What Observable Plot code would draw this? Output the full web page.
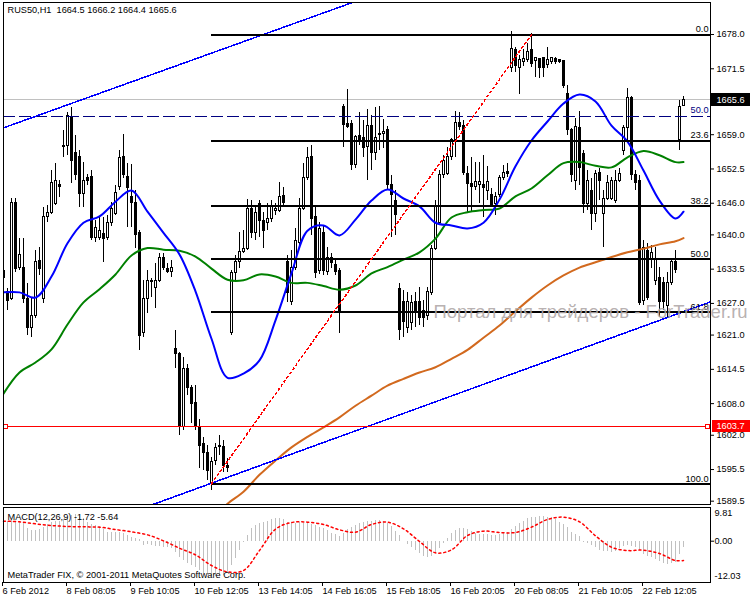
<!DOCTYPE html>
<html><head><meta charset="utf-8">
<script src="https://cdn.jsdelivr.net/npm/d3@7"></script>
<script src="https://cdn.jsdelivr.net/npm/@observablehq/plot@0.6"></script>
<style>body{margin:0;background:#fff;} svg{display:block;}</style>
</head><body><div id="chart"></div>
<script>
const symbol = "RUS50,H1";
const open = [
1633.2,1629.1,1627.9,1646.1,1633.8,1633.8,1627.9,1622.4,1624.7,1635.1,
1627.9,1643.3,1644.2,1645.9,1649.4,1656.8,1656.9,1662.4,1655.6,1654.7,
1647.8,1650.7,1650.9,1639.5,1639.5,1640.1,1639.5,1642.2,1644.0,1649.0,
1654.7,1650.9,1647.1,1646.1,1640.4,1621.3,1627.9,1631.0,1630.0,1631.3,
1635.7,1633.6,1632.9,1618.4,1617.5,1603.6,1614.6,1611.0,1608.2,1603.6,
1600.4,1598.7,1593.0,1597.2,1600.0,1599.7,1596.2,1621.3,1632.7,1634.8,
1636.7,1637.4,1645.0,1640.3,1645.9,1642.7,1642.3,1643.1,1644.6,1644.6,
1647.3,1634.8,1627.2,1633.8,1638.5,1645.0,1650.7,1654.7,1643.3,1633.2,
1640.4,1632.9,1635.7,1634.2,1633.2,1664.3,1661.1,1661.1,1653.2,1658.8,
1658.3,1656.6,1660.7,1655.6,1659.0,1659.2,1659.8,1649.4,1646.5,1629.8,
1627.2,1622.4,1623.2,1627.2,1627.2,1625.6,1624.7,1628.9,1637.4,1642.3,
1651.3,1651.6,1654.7,1657.9,1661.3,1660.7,1651.6,1649.7,1649.0,1649.4,
1649.4,1648.4,1647.5,1645.9,1647.5,1650.7,1652.0,1671.6,1675.0,1671.7,
1672.7,1673.1,1675.0,1672.9,1673.3,1673.5,1672.3,1672.7,1673.3,1673.1,
1672.9,1666.8,1659.8,1650.3,1660.2,1655.4,1645.9,1648.4,1644.0,1651.8,
1644.0,1646.9,1646.9,1646.5,1650.3,1656.0,1660.2,1665.9,1651.3,1650.3,
1627.5,1637.0,1635.5,1631.3,1631.9,1630.8,1626.6,1630.8,1634.9,1657.9,
1664.5];
const high = [
1634.2,1629.8,1646.9,1646.9,1639.3,1639.3,1630.8,1628.1,1637.0,1637.6,
1645.2,1645.6,1652.2,1653.5,1650.3,1659.8,1663.2,1664.2,1658.8,1656.0,
1653.7,1651.4,1652.2,1642.7,1643.3,1643.3,1643.7,1646.1,1649.4,1656.0,
1659.0,1653.5,1653.3,1648.4,1640.8,1631.3,1633.2,1631.7,1634.6,1636.5,
1636.5,1634.6,1635.1,1621.9,1617.7,1616.7,1615.4,1611.4,1611.4,1605.0,
1601.6,1600.0,1597.8,1600.4,1601.9,1601.0,1597.6,1633.2,1636.1,1640.4,
1640.8,1646.7,1646.5,1645.6,1646.5,1644.2,1645.9,1646.5,1645.9,1649.9,
1649.0,1636.1,1637.0,1641.2,1646.9,1653.5,1656.6,1656.9,1645.2,1642.3,
1641.6,1637.6,1636.5,1635.5,1633.6,1664.7,1667.6,1661.7,1658.8,1663.2,
1661.7,1663.8,1662.6,1664.2,1664.3,1661.9,1660.6,1651.3,1648.4,1630.8,
1629.4,1629.1,1628.5,1629.1,1630.0,1627.5,1630.0,1638.0,1646.5,1652.2,
1655.1,1656.6,1658.3,1663.4,1663.2,1661.7,1653.0,1654.7,1653.7,1653.7,
1655.1,1653.0,1648.8,1648.0,1651.3,1653.2,1653.5,1678.6,1675.5,1674.0,
1675.2,1676.3,1678.2,1673.6,1673.5,1673.6,1675.5,1673.6,1673.6,1673.3,
1673.1,1668.3,1660.2,1662.1,1663.4,1656.0,1652.2,1650.7,1652.2,1652.6,
1648.4,1651.3,1650.9,1652.2,1652.6,1660.7,1667.8,1666.2,1652.2,1651.3,
1638.9,1638.4,1638.0,1637.6,1633.8,1631.9,1632.9,1635.1,1637.0,1665.5,
1666.2];
const low = [
1631.3,1625.6,1627.5,1632.9,1633.2,1627.0,1620.9,1620.5,1624.1,1632.3,
1627.0,1642.3,1643.9,1645.6,1647.1,1654.7,1655.1,1649.7,1650.3,1645.2,
1645.2,1649.4,1638.9,1638.5,1638.9,1634.8,1638.9,1641.6,1643.7,1648.4,
1650.7,1641.4,1641.4,1637.4,1618.1,1620.5,1625.1,1628.1,1626.0,1631.0,
1633.2,1632.7,1631.9,1614.6,1601.9,1602.9,1609.5,1604.2,1602.9,1595.7,
1595.3,1593.4,1591.5,1596.2,1598.1,1594.9,1594.9,1620.9,1631.3,1633.6,
1636.5,1637.0,1639.3,1638.9,1639.5,1637.4,1640.8,1642.3,1643.7,1644.2,
1645.6,1627.2,1626.6,1633.2,1638.0,1644.6,1650.3,1639.9,1631.7,1632.5,
1632.3,1632.3,1633.6,1632.3,1621.3,1656.6,1660.2,1652.2,1652.6,1656.9,
1654.7,1650.3,1652.2,1654.1,1656.0,1656.4,1648.4,1639.5,1639.9,1620.0,
1620.5,1621.3,1621.9,1622.4,1622.8,1622.4,1623.8,1628.5,1637.0,1641.8,
1650.7,1651.3,1654.1,1654.7,1659.8,1651.3,1644.2,1644.2,1648.4,1645.9,
1643.3,1646.5,1645.2,1643.7,1647.1,1650.3,1650.9,1670.8,1670.8,1666.6,
1671.9,1672.7,1671.7,1669.8,1669.7,1669.8,1671.6,1672.3,1672.3,1672.5,
1667.8,1658.8,1649.9,1648.4,1649.4,1644.0,1644.6,1640.8,1642.3,1646.5,
1637.6,1646.5,1646.5,1645.9,1649.9,1655.1,1657.9,1650.3,1648.4,1626.6,
1626.6,1627.5,1633.6,1630.4,1624.3,1625.6,1624.3,1630.4,1632.7,1656.0,
1664.4];
const close = [
1631.9,1627.5,1646.1,1633.6,1636.1,1627.9,1622.4,1624.7,1634.8,1633.6,
1643.3,1644.2,1649.9,1650.3,1649.0,1656.6,1662.6,1654.1,1651.3,1647.8,
1650.3,1650.3,1639.5,1641.4,1640.8,1639.3,1642.2,1645.0,1648.0,1654.5,
1651.3,1648.8,1646.1,1639.9,1620.9,1627.9,1631.3,1631.3,1631.3,1635.7,
1633.8,1632.9,1633.8,1617.5,1603.6,1614.5,1611.0,1608.0,1603.6,1600.0,
1598.7,1595.3,1597.0,1599.5,1599.7,1596.2,1595.7,1632.7,1634.8,1636.7,
1637.4,1645.0,1640.3,1644.2,1642.7,1640.8,1643.1,1645.2,1645.0,1647.1,
1646.1,1628.9,1633.8,1638.9,1645.0,1650.7,1654.5,1643.1,1632.7,1641.2,
1633.2,1635.7,1634.6,1632.9,1625.6,1660.9,1660.4,1653.2,1658.5,1657.9,
1656.4,1660.7,1655.6,1658.3,1659.2,1659.6,1649.4,1647.5,1643.7,1621.9,
1623.4,1627.2,1627.0,1625.6,1624.3,1624.3,1629.1,1637.4,1645.2,1651.3,
1654.1,1654.7,1657.9,1661.3,1660.4,1651.8,1649.7,1649.0,1650.1,1650.1,
1648.8,1650.1,1645.6,1647.1,1650.7,1651.8,1651.6,1675.2,1672.1,1673.1,
1673.3,1674.6,1672.5,1673.5,1671.6,1671.6,1673.1,1673.5,1672.7,1672.7,
1668.3,1659.8,1651.3,1660.4,1652.6,1645.9,1650.3,1644.0,1651.6,1650.3,
1646.9,1649.9,1650.3,1650.3,1651.6,1660.2,1665.9,1651.3,1649.9,1627.0,
1637.6,1628.1,1636.5,1635.5,1627.2,1627.2,1630.8,1634.8,1633.4,1664.2,
1665.6];

const maIdx = [0,4,8,12,16,20,24,28,32,36,40,44,48,52,56,60,64,68,72,76,80,84,88,92,96,100,104,108,112,116,120,124,128,132,136,140,144,148,152,156,160,164,168,170];
const maBlue = [1629.1,1629.1,1628.1,1632.1,1638.4,1642.3,1643.5,1646.3,1648.4,1644.4,1640.4,1636.3,1629.3,1620.3,1612.9,1613.7,1616.2,1623.8,1632.7,1640.8,1641.8,1639.9,1642.9,1646.5,1648.6,1646.9,1645.4,1642.3,1641.8,1641.2,1642.3,1646.7,1653.0,1657.9,1661.5,1664.9,1666.6,1665.3,1660.7,1657.7,1652.2,1646.5,1643.1,1644.4];
const maGreen = [1609.9,1613.9,1615.8,1618.3,1623.0,1627.2,1629.7,1632.5,1636.1,1637.5,1637.2,1637.0,1635.9,1633.6,1631.5,1631.4,1632.5,1632.1,1630.9,1630.9,1630.3,1629.6,1630.4,1632.7,1633.9,1635.3,1636.7,1639.3,1643.3,1644.3,1644.7,1645.0,1647.3,1648.8,1651.3,1653.6,1653.8,1653.1,1652.8,1654.7,1655.9,1655.1,1653.8,1653.8];
const maOrangeIdx = [54,56,60,64,68,72,76,80,84,88,92,96,100,104,108,112,116,120,124,128,132,136,140,144,148,152,156,160,164,168,170];
const maOrange = [1587.3,1589.0,1591.3,1594.5,1597.2,1599.7,1601.7,1603.5,1605.4,1607.6,1609.5,1611.4,1612.7,1613.9,1614.9,1616.5,1618.2,1620.5,1622.8,1625.5,1628.1,1630.4,1632.3,1633.8,1634.8,1635.8,1636.7,1637.4,1638.2,1638.8,1639.4];

const macdMain = [
5.83,5.83,6.03,5.83,5.54,5.25,3.60,3.11,3.11,3.31,
4.08,4.86,5.54,5.83,5.83,6.22,7.00,7.48,7.77,7.48,
6.51,5.54,4.86,4.57,4.28,3.31,2.63,2.63,2.63,2.43,
2.14,1.65,1.17,0.68,0.39,-1.26,-0.97,-1.26,-1.55,-1.45,
-1.74,-1.94,-2.23,-3.20,-4.66,-5.63,-6.60,-7.08,-7.76,-8.54,
-9.32,-9.71,-10.29,-10.29,-10.00,-10.00,-9.03,-7.08,-5.14,-2.72,
-0.29,1.65,3.60,4.57,5.05,5.44,5.83,6.32,6.51,6.51,
6.32,5.54,5.25,5.25,5.54,5.25,5.05,4.86,4.57,4.08,
3.60,3.11,2.33,1.85,1.36,2.14,3.31,3.89,4.57,5.05,
5.34,5.64,5.83,6.03,6.03,5.83,5.25,4.28,2.92,1.65,
-0.10,-0.97,-1.74,-2.72,-3.69,-4.46,-4.85,-4.46,-3.49,-2.23,
-0.77,0.68,2.14,3.11,3.60,3.60,3.31,2.92,2.33,1.95,
1.85,1.85,1.56,1.56,1.85,2.14,2.53,3.31,4.28,5.05,
5.83,6.51,6.80,7.00,7.19,7.19,7.00,6.80,6.22,5.54,
4.86,3.89,2.63,1.95,1.36,-0.29,-0.77,-1.26,-1.74,-2.72,
-2.91,-3.01,-3.20,-2.91,-2.23,-1.55,-1.26,-1.45,-1.94,-2.72,
-3.88,-4.46,-4.85,-5.43,-5.92,-6.40,-6.79,-6.60,-6.11,-3.88,
-1.72];
const macdSignal = [5.83,5.64,5.05,4.57,4.28,4.18,4.08,3.40,2.72,1.85,0.10,-2.03,-3.98,-7.08,-8.93,-8.54,-2.72,3.50,5.44,5.54,4.86,3.31,2.63,4.86,5.54,3.60,-0.09,-3.39,-2.52,1.65,2.92,2.53,2.53,4.08,6.32,7.00,5.64,1.56,-1.74,-2.72,-2.62,-3.59,-5.63,-5.64];
const macdParams = "MACD(12,26,9)";
const macdTicks = [9.81, 0, -12.03];

const yTicks = [1678.0,1671.5,1659.0,1652.5,1646.0,1640.0,1633.5,1627.0,1621.0,1614.5,1608.0,1602.0,1595.5,1589.5];
const xTickIdx = [0,16,32,48,64,80,96,112,128,144,160];
const xTickLabels = ["6 Feb 2012","8 Feb 08:05","9 Feb 10:05","10 Feb 12:05","13 Feb 14:05","14 Feb 16:05","15 Feb 18:05","16 Feb 20:05","20 Feb 08:05","21 Feb 10:05","22 Feb 12:05"];

const fibLevels = [0, 23.6, 38.2, 50.0, 61.8, 100.0];
const fibHigh = 1678.0, fibHighBar = 132;
const fibLow = 1592.8, fibLowBar = 52;
const dashedLevel = 1662.45, dashedLabel = "50.0";
const hLine = 1603.7;
const hLineAnchors = [0.5, 176];
const upperTrendIdx = [0, 87], upperTrendPrice = [1660.3, 1684.0];
const lowerTrendIdx = [36, 176.75], lowerTrendPrice = [1588.5, 1627.3];
const watermark = "Портал для трейдеров - ForTrader.ru";
const copyright = "MetaTrader FIX, © 2001-2011 MetaQuotes Software Corp.";

// ---- build tables ----
const bars = open.map((o, i) => ({i, o, h: high[i], l: low[i], c: close[i]}));
const blue = maIdx.map((i, k) => ({i, v: maBlue[k]}));
const green = maIdx.map((i, k) => ({i, v: maGreen[k]}));
const orange = maOrangeIdx.map((i, k) => ({i, v: maOrange[k]}));
const hist = macdMain.map((v, i) => ({i, v}));
const sig = maIdx.map((i, k) => ({i, v: macdSignal[k]}));
const fibData = fibLevels.map(lvl => ({lvl, p: fibHigh - (fibHigh - fibLow) * lvl / 100}));
const fibDiag = [{i: fibLowBar, p: fibLow}, {i: fibHighBar, p: fibHigh}];
const upper = upperTrendIdx.map((i, k) => ({i, p: upperTrendPrice[k]}));
const lower = lowerTrendIdx.map((i, k) => ({i, p: lowerTrendPrice[k]}));
const last = bars[bars.length - 1];
const bid = last.c;
const title = `${symbol}\u00a0 ${last.o.toFixed(1)} ${last.h.toFixed(1)} ${last.l.toFixed(1)} ${last.c.toFixed(1)}`;
const macdLabel = `${macdParams} ${macdMain[macdMain.length-1].toFixed(2)} ${macdSignal[macdSignal.length-1].toFixed(2)}`;
const labelMap = new Map(xTickIdx.map((d, k) => [d, xTickLabels[k]]));

const font = "'Liberation Sans', Arial, sans-serif";
const xDomain = [0, 176.75];
const style = {fontFamily: font, fontSize: "9.2px", background: "white", color: "black", overflow: "visible"};
const crisp = {shapeRendering: "crispEdges"};

const main = Plot.plot({
  width: 750, height: 507,
  marginLeft: 3, marginRight: 40, marginTop: 2, marginBottom: 3,
  style,
  x: {domain: xDomain, axis: null},
  y: {domain: [1588.87, 1684.07]},
  marks: [
    Plot.ruleY([bid], {y: d => d, stroke: "#c0c0c0", ...crisp}),
    Plot.ruleX(bars, {x: "i", y1: "l", y2: "h", stroke: "black", clip: true, ...crisp}),
    Plot.rect(bars, {x1: d => d.i - 0.25, x2: d => d.i + 0.25, y1: "o", y2: "c",
      fill: d => d.c >= d.o ? "white" : "black", stroke: "black", clip: true, ...crisp}),
    Plot.line(orange, {x: "i", y: "v", stroke: "#d2691e", strokeWidth: 2, curve: "catmull-rom", clip: true}),
    Plot.line(green, {x: "i", y: "v", stroke: "#008000", strokeWidth: 2, curve: "catmull-rom", clip: true}),
    Plot.line(blue, {x: "i", y: "v", stroke: "#0000ff", strokeWidth: 2, curve: "catmull-rom", clip: true}),
    Plot.ruleY([dashedLevel], {y: d => d, stroke: "#000080", strokeDasharray: "12,4", ...crisp}),
    Plot.line(upper, {x: "i", y: "p", stroke: "#0000ff", clip: true, ...crisp}),
    Plot.line(lower, {x: "i", y: "p", stroke: "#0000ff", clip: true, ...crisp}),
    Plot.ruleY(fibData, {y: "p", x1: () => fibLowBar, x2: () => xDomain[1], stroke: "black", strokeWidth: 2, ...crisp}),
    Plot.line(fibDiag, {x: "i", y: "p", stroke: "red", strokeDasharray: "2,3", ...crisp}),
    Plot.text(fibData, {y: "p", text: d => d.lvl.toFixed(1), frameAnchor: "right", dx: -2, dy: -5, textAnchor: "end", fill: "black"}),
    Plot.text([dashedLevel], {y: d => d, text: () => dashedLabel, frameAnchor: "right", dx: -2, dy: -6, textAnchor: "end", fill: "#000080"}),
    Plot.ruleY([hLine], {y: d => d, stroke: "red", ...crisp}),
    Plot.dot(hLineAnchors, {x: d => d, y: () => hLine, symbol: "square", r: 2.3, stroke: "red", fill: "white", ...crisp}),
    Plot.frame({stroke: "black", ...crisp}),
    Plot.axisY({anchor: "right", ticks: yTicks, tickFormat: d => d.toFixed(1), tickSize: 3, tickPadding: 3, label: null}),
    Plot.ruleY([bid], {y: d => d, stroke: "black", strokeWidth: 13, insetLeft: 708, insetRight: -40, ...crisp}),
    Plot.text([bid], {y: d => d, text: d => d.toFixed(1), frameAnchor: "right", dx: 6, textAnchor: "start", fill: "white"}),
    Plot.ruleY([hLine], {y: d => d, stroke: "red", strokeWidth: 12, insetLeft: 709, insetRight: -40, ...crisp}),
    Plot.text([hLine], {y: d => d, text: d => d.toFixed(1), frameAnchor: "right", dx: 6, textAnchor: "start", fill: "white"}),
    Plot.text([title], {frameAnchor: "top-left", dx: 4, dy: 4, lineAnchor: "top", textAnchor: "start", fill: "black"}),
    Plot.text([watermark], {frameAnchor: "top-left", dx: 430, dy: 310, lineAnchor: "middle", textAnchor: "start",
      fontSize: 18.5, fill: "#b0a8a8", fillOpacity: 0.9})
  ]
});

const macd = Plot.plot({
  width: 750, height: 93,
  marginLeft: 3, marginRight: 40, marginTop: 0, marginBottom: 18,
  style,
  x: {domain: xDomain},
  y: {domain: [macdTicks[2], macdTicks[0]]},
  marks: [
    Plot.ruleX(hist, {x: "i", y1: () => 0, y2: "v", stroke: "#c0c0c0", ...crisp}),
    Plot.line(sig, {x: "i", y: "v", stroke: "red", strokeDasharray: "2,3", curve: "catmull-rom"}),
    Plot.frame({stroke: "black", ...crisp}),
    Plot.axisY({anchor: "right", ticks: [macdTicks[1]], tickFormat: d => d.toFixed(2), tickSize: 3, tickPadding: 1, label: null}),
    Plot.axisY({anchor: "right", ticks: [macdTicks[0]], tickFormat: d => d.toFixed(2), tickSize: 0, tickPadding: 4, dy: 6, label: null}),
    Plot.axisY({anchor: "right", ticks: [macdTicks[2]], tickFormat: d => d.toFixed(2), tickSize: 0, tickPadding: 4, dy: -6, label: null}),
    Plot.axisX({anchor: "bottom", ticks: xTickIdx, tickFormat: d => labelMap.get(d), tickSize: 4, tickPadding: 1, textAnchor: "start", dx: -1, label: null}),
    Plot.text([macdLabel], {frameAnchor: "top-left", dx: 4, dy: 9.5, lineAnchor: "middle", textAnchor: "start", fill: "black"}),
    Plot.text([copyright], {frameAnchor: "top-left", dx: 4, dy: 67.5, lineAnchor: "middle", textAnchor: "start", fill: "black"})
  ]
});

const root = document.getElementById("chart");
root.appendChild(main);
root.appendChild(macd);
</script>
</body></html>
